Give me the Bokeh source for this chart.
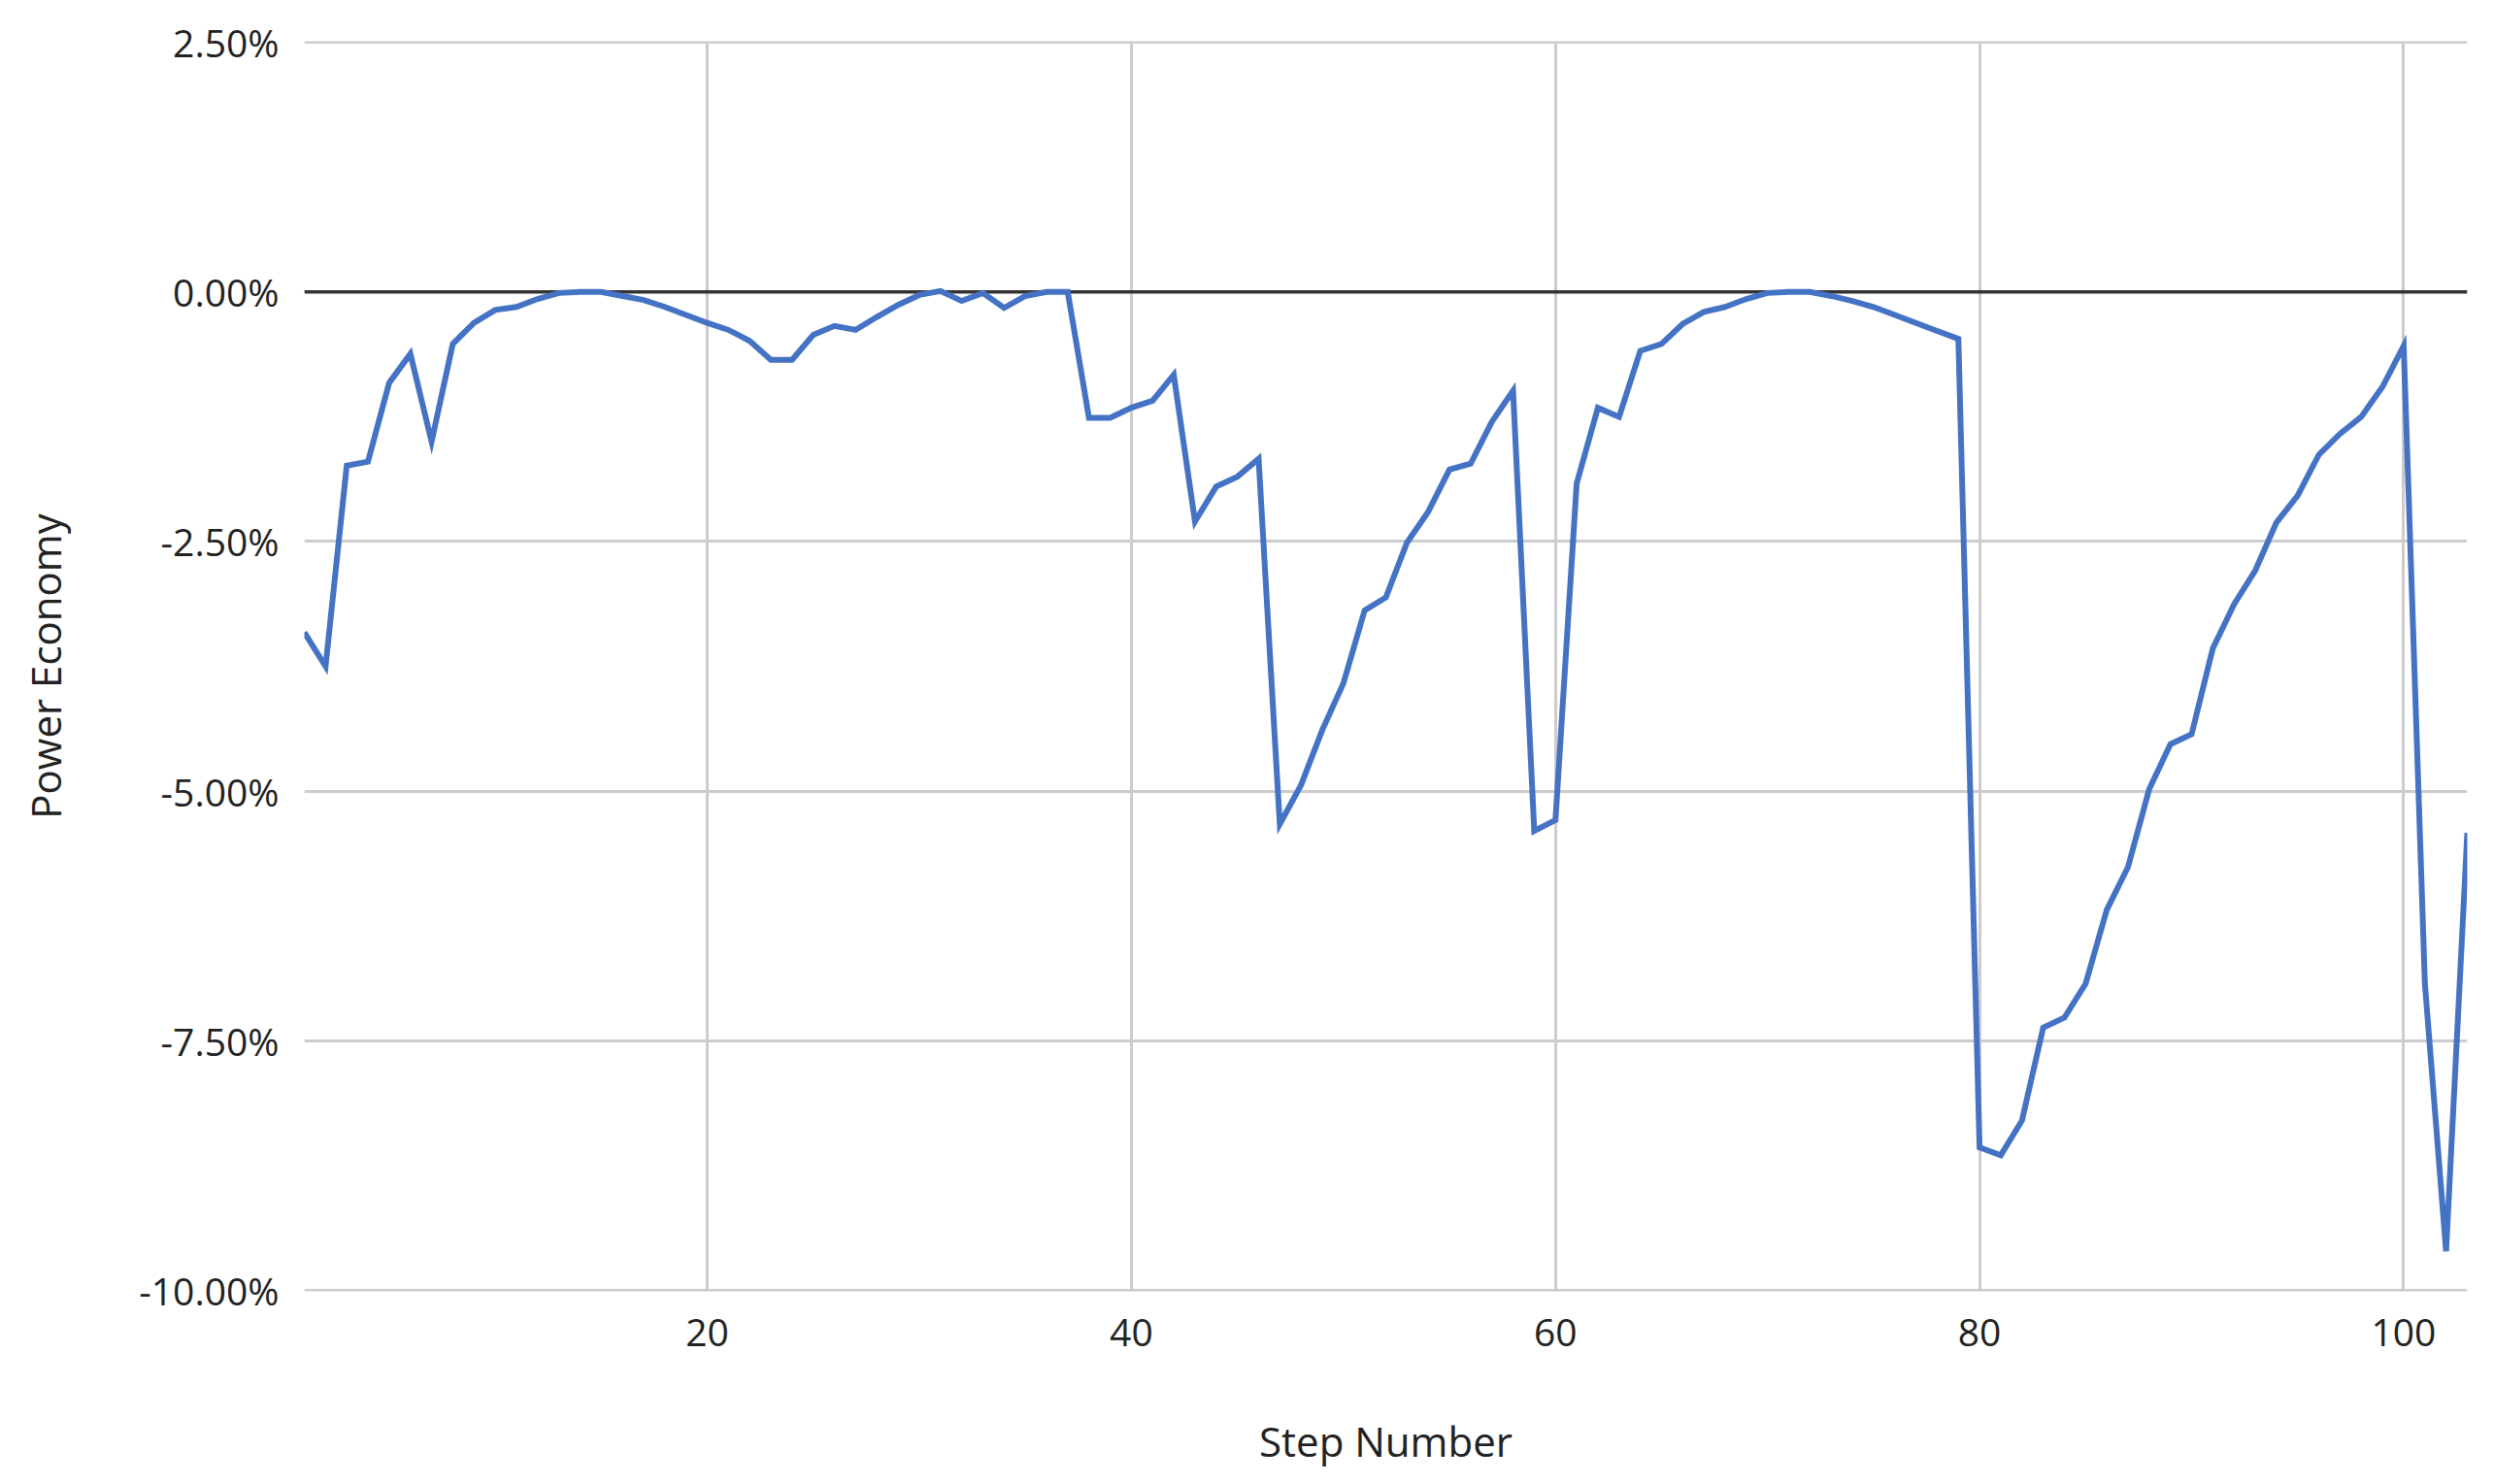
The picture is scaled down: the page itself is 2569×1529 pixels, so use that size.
from bokeh.plotting import figure
from bokeh.models import FixedTicker, CustomJSTickFormatter, Span, Range1d, ColumnDataSource
from bokeh.embed import file_html
from bokeh.resources import INLINE

steps = list(range(1, 104))
power_economy = [
    -3.41, -3.75, -1.74, -1.70, -0.91, -0.62, -1.50, -0.52, -0.31, -0.18,
    -0.15, -0.07, -0.01, 0.00, 0.00, -0.04, -0.08, -0.15, -0.23, -0.31,
    -0.38, -0.49, -0.68, -0.68, -0.43, -0.34, -0.38, -0.25, -0.13, -0.03,
    0.01, -0.09, -0.01, -0.16, -0.04, 0.00, 0.00, -1.26, -1.26, -1.16,
    -1.09, -0.83, -2.30, -1.95, -1.85, -1.67, -5.33, -4.94, -4.39, -3.92,
    -3.19, -3.06, -2.51, -2.20, -1.78, -1.72, -1.30, -0.99, -5.40, -5.29,
    -1.92, -1.16, -1.25, -0.59, -0.52, -0.32, -0.20, -0.15, -0.07, -0.01,
    0.00, 0.00, -0.04, -0.09, -0.15, -0.23, -0.31, -0.39, -0.47, -8.57,
    -8.65, -8.30, -7.37, -7.27, -6.93, -6.19, -5.76, -4.98, -4.53, -4.43,
    -3.57, -3.13, -2.79, -2.31, -2.04, -1.63, -1.42, -1.25, -0.95, -0.54,
    -6.93, -9.61, -5.42,
]
x_ticks = [20, 40, 60, 80, 100]
y_ticks = [-10.0, -7.5, -5.0, -2.5, 0.0, 2.5]

FONT = "Open Sans"

p = figure(width=2550, height=1515, output_backend="svg", toolbar_location=None,
           x_range=Range1d(1, 103), y_range=Range1d(-10.012, 2.512),
           min_border_left=313, min_border_right=9, min_border_top=42, min_border_bottom=176)
p.outline_line_color = None

src = ColumnDataSource(dict(x=steps, y=power_economy))

zero = Span(location=0, dimension="width", line_color="#333333", line_width=3.5, level="underlay")
p.add_layout(zero)

p.line("x", "y", source=src, line_color="#4472C4", line_width=6, line_join="miter")

p.xaxis.ticker = FixedTicker(ticks=x_ticks)
p.yaxis.ticker = FixedTicker(ticks=y_ticks)
p.yaxis.formatter = CustomJSTickFormatter(code="return tick.toFixed(2) + '%';")

for ax in (p.xaxis, p.yaxis):
    ax.axis_line_color = None
    ax.major_tick_line_color = None
    ax.minor_tick_line_color = None
    ax.major_tick_out = 0
    ax.major_tick_in = 0
    ax.minor_tick_out = 0
    ax.major_label_text_font = FONT
    ax.major_label_text_font_size = "39px"
    ax.major_label_text_color = "#222222"
    ax.axis_label_text_font = FONT
    ax.axis_label_text_font_size = "42px"
    ax.axis_label_text_font_style = "normal"
    ax.axis_label_text_color = "#222222"

p.xaxis.axis_label = "Step Number"
p.yaxis.axis_label = "Power Economy"
p.xaxis.major_label_standoff = 28
p.yaxis.major_label_standoff = 26
p.xaxis.axis_label_standoff = 66
p.yaxis.axis_label_standoff = 65

p.xgrid.grid_line_color = "#cccccc"
p.ygrid.grid_line_color = "#cccccc"
p.xgrid.grid_line_width = 3
p.ygrid.grid_line_width = 3

open("out.html", "w").write(file_html(p, INLINE))
